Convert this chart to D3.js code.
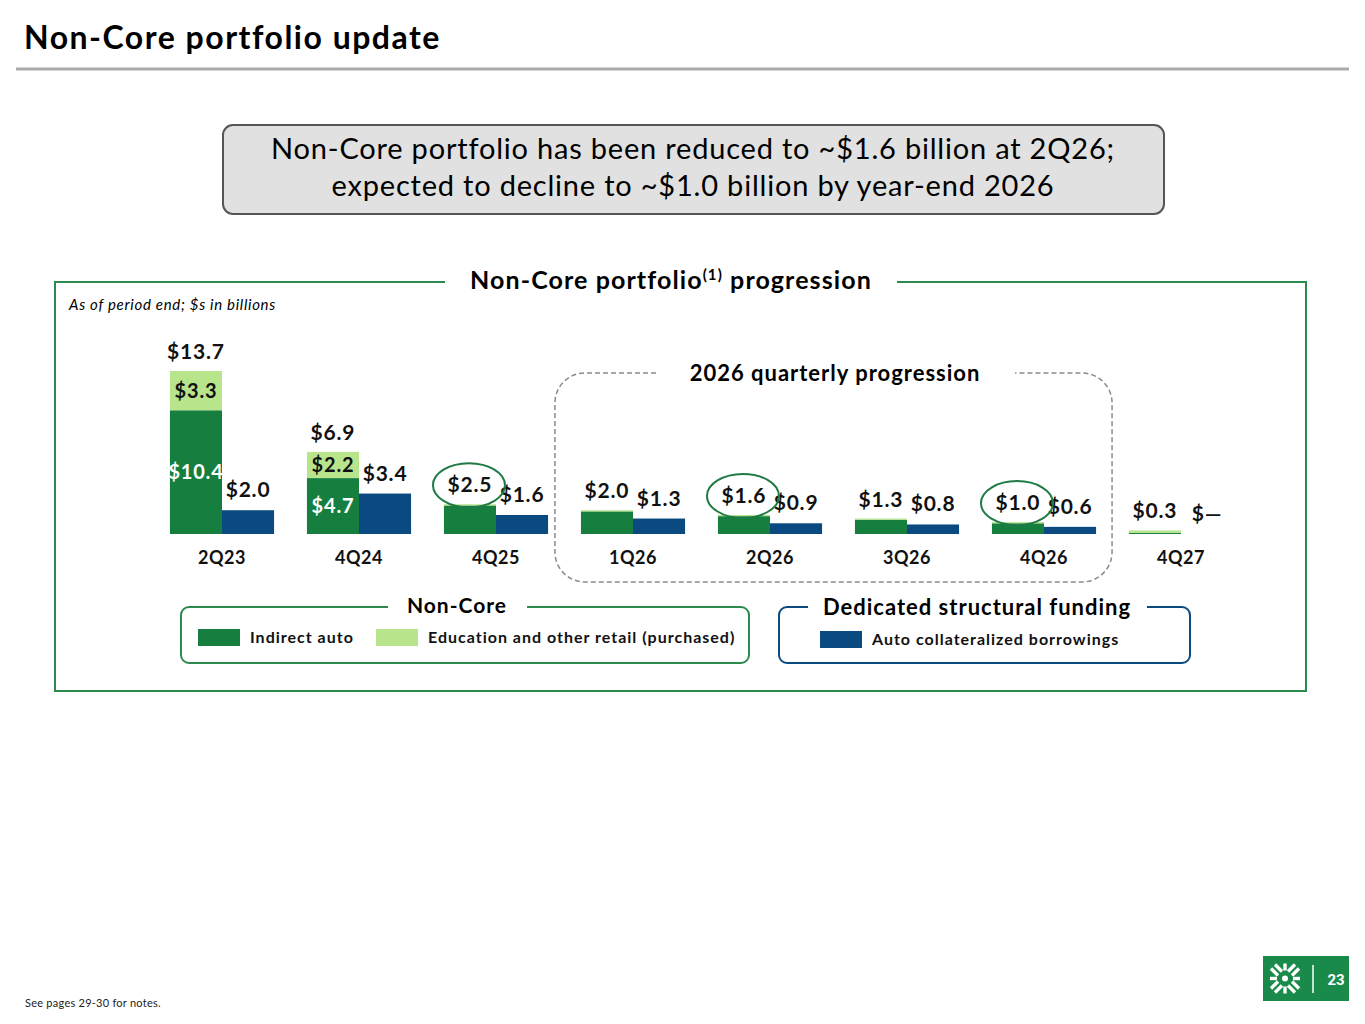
<!DOCTYPE html>
<html>
<head>
<meta charset="utf-8">
<script src="https://cdn.jsdelivr.net/npm/d3@7"></script>
<style>
  body { margin: 0; background: #fff; }
  svg { display: block; font-family: Lato, "Open Sans", sans-serif; }
</style>
</head>
<body>
<div id="chartDiv"></div>
<script>
// chart values
var categories = ["2Q23", "4Q24", "4Q25", "1Q26", "2Q26", "3Q26", "4Q26", "4Q27"];
var indirectAuto = [10.4, 4.7, 2.4, 1.9, 1.5, 1.2, 0.9, 0.1];
var educationRetail = [3.3, 2.2, 0.1, 0.1, 0.1, 0.1, 0.1, 0.2];
var nonCoreTotal = [13.7, 6.9, 2.5, 2.0, 1.6, 1.3, 1.0, 0.3];
var autoBorrowings = [2.0, 3.4, 1.6, 1.3, 0.9, 0.8, 0.6, 0];
var borrowingLabels = ["$2.0", "$3.4", "$1.6", "$1.3", "$0.9", "$0.8", "$0.6", "$\u2014"];
var highlighted = ["4Q25", "2Q26", "4Q26"];
var quarterly2026 = ["1Q26", "2Q26", "3Q26", "4Q26"];

;(function() {

	var width = 1365;
	var height = 1024;

	var darkGreen = "#167f40";
	var lightGreen = "#b8e58c";
	var navy = "#0a4a80";
	var frameGreen = "#2c8a4f";

	var svg = d3.select("#chartDiv").append("svg")
		.attr("width", width)
		.attr("height", height);

	// page title + rule
	svg.append("text")
		.attr("x", 24).attr("y", 49)
		.style("font-size", "32px").style("font-weight", 700)
		.style("letter-spacing", "1.5px")
		.text("Non-Core portfolio update");

	svg.append("line")
		.attr("x1", 16).attr("x2", 1349)
		.attr("y1", 69).attr("y2", 69)
		.attr("stroke", "#ababab").attr("stroke-width", 3);

	// callout
	svg.append("rect")
		.attr("x", 223).attr("y", 125)
		.attr("width", 941).attr("height", 89)
		.attr("rx", 10)
		.attr("fill", "#e1e1e1").attr("stroke", "#555").attr("stroke-width", 2);

	svg.selectAll(".callout")
		.data(["Non-Core portfolio has been reduced to ~$1.6 billion at 2Q26;",
			"expected to decline to ~$1.0 billion by year-end 2026"])
		.enter().append("text")
			.attr("class", "callout")
			.attr("x", 693)
			.attr("y", function(d, i) { return 159 + i * 37; })
			.attr("text-anchor", "middle")
			.style("font-size", "29px")
			.style("letter-spacing", "0.8px")
			.text(function(d) { return d; });

	// chart frame with gap for the header
	svg.append("path")
		.attr("d", "M445,282 H55 V691 H1306 V282 H897")
		.attr("fill", "none").attr("stroke", frameGreen).attr("stroke-width", 2);

	var header = svg.append("text")
		.attr("x", 671).attr("y", 289)
		.attr("text-anchor", "middle")
		.style("font-size", "25px").style("font-weight", 700)
		.style("letter-spacing", "1.1px");
	header.append("tspan").text("Non-Core portfolio");
	header.append("tspan").attr("dy", -9).style("font-size", "15px").text("(1)");
	header.append("tspan").attr("dy", 9).text(" progression");

	svg.append("text")
		.attr("x", 69).attr("y", 310)
		.style("font-size", "15px").style("font-style", "italic")
		.style("letter-spacing", "0.7px")
		.text("As of period end; $s in billions");

	// scales
	var x0 = d3.scaleBand()
		.domain(categories)
		.range([153.5, 1249.5])
		.paddingInner(0.24)
		.paddingOuter(0.12);

	var x1 = d3.scaleBand()
		.domain(["nonCore", "funding"])
		.range([0, x0.bandwidth()]);

	var y = d3.scaleLinear()
		.domain([0, 13.7])
		.range([534, 371]);

	// dashed 2026 group box
	var gx0 = x0(quarterly2026[0]) - 26;
	var gx1 = x0(quarterly2026[3]) + x0.bandwidth() + 16;
	var gy0 = 373, gy1 = 582, r = 30;
	svg.append("path")
		.attr("d", "M656," + gy0 + " H" + (gx0 + r) +
			" A" + r + "," + r + " 0 0 0 " + gx0 + "," + (gy0 + r) +
			" V" + (gy1 - r) +
			" A" + r + "," + r + " 0 0 0 " + (gx0 + r) + "," + gy1 +
			" H" + (gx1 - r) +
			" A" + r + "," + r + " 0 0 0 " + gx1 + "," + (gy1 - r) +
			" V" + (gy0 + r) +
			" A" + r + "," + r + " 0 0 0 " + (gx1 - r) + "," + gy0 +
			" H1015")
		.attr("fill", "none").attr("stroke", "#8a8a8a")
		.attr("stroke-width", 1.5).attr("stroke-dasharray", "5,3");

	svg.append("text")
		.attr("x", 835).attr("y", 381)
		.attr("text-anchor", "middle")
		.style("font-size", "22px").style("font-weight", 700)
		.style("letter-spacing", "1px")
		.text("2026 quarterly progression");

	var rows = categories.map(function(c, i) {
		return {
			cat: c,
			auto: indirectAuto[i],
			edu: educationRetail[i],
			total: nonCoreTotal[i],
			borrow: autoBorrowings[i],
			borrowLabel: borrowingLabels[i]
		};
	});

	var groups = svg.append("g").selectAll(".group")
		.data(rows)
		.enter().append("g")
			.attr("class", "group")
			.attr("transform", function(d) { return "translate(" + x0(d.cat) + ",0)"; });

	var bw = x1.bandwidth();
	var xa = x1("nonCore");
	var xb = x1("funding");

	// indirect auto
	groups.append("rect")
		.attr("x", xa).attr("width", bw)
		.attr("y", function(d) { return y(d.auto); })
		.attr("height", function(d) { return y(0) - y(d.auto); })
		.attr("fill", darkGreen);

	// education and other retail
	groups.append("rect")
		.attr("x", xa).attr("width", bw)
		.attr("y", function(d) { return y(d.auto + d.edu); })
		.attr("height", function(d) { return y(d.auto) - y(d.auto + d.edu); })
		.attr("fill", lightGreen);

	// auto collateralized borrowings
	groups.append("rect")
		.attr("x", xb).attr("width", bw)
		.attr("y", function(d) { return y(d.borrow); })
		.attr("height", function(d) { return y(0) - y(d.borrow); })
		.attr("fill", navy);

	// segment labels when there is room
	groups.filter(function(d) { return y(0) - y(d.auto) > 30; })
		.append("text")
		.attr("x", xa + bw / 2)
		.attr("y", function(d) { return (y(0) + y(d.auto)) / 2 + 7; })
		.attr("text-anchor", "middle")
		.attr("fill", "#fff")
		.style("font-size", "20px").style("font-weight", 700)
		.style("letter-spacing", "0.8px")
		.text(function(d) { return "$" + d.auto.toFixed(1); });

	groups.filter(function(d) { return y(d.auto) - y(d.auto + d.edu) > 20; })
		.append("text")
		.attr("x", xa + bw / 2)
		.attr("y", function(d) { return (y(d.auto) + y(d.auto + d.edu)) / 2 + 7; })
		.attr("text-anchor", "middle")
		.attr("fill", "#111")
		.style("font-size", "20px").style("font-weight", 700)
		.style("letter-spacing", "0.8px")
		.text(function(d) { return "$" + d.edu.toFixed(1); });

	// totals above the non-core bar
	groups.append("text")
		.attr("x", xa + bw / 2)
		.attr("y", function(d) { return y(d.total) - 12; })
		.attr("text-anchor", "middle")
		.attr("fill", "#111")
		.style("font-size", "21px").style("font-weight", 700)
		.style("letter-spacing", "0.8px")
		.text(function(d) { return "$" + d.total.toFixed(1); });

	// borrowing labels
	groups.append("text")
		.attr("x", xb + bw / 2)
		.attr("y", function(d) { return y(d.borrow) - 13; })
		.attr("text-anchor", "middle")
		.attr("fill", "#111")
		.style("font-size", "21px").style("font-weight", 700)
		.style("letter-spacing", "0.8px")
		.text(function(d) { return d.borrowLabel; });

	// highlight ellipses
	groups.filter(function(d) { return highlighted.indexOf(d.cat) >= 0; })
		.append("ellipse")
		.attr("cx", xa + bw / 2 - 1)
		.attr("cy", function(d) { return y(d.total) - 19; })
		.attr("rx", 36).attr("ry", 22)
		.attr("fill", "none").attr("stroke", "#1f7a45").attr("stroke-width", 2);

	// category axis
	var xAxis = d3.axisBottom(x0).tickSize(0).tickPadding(0);
	var axisG = svg.append("g")
		.attr("transform", "translate(0,555)")
		.call(xAxis);
	axisG.select(".domain").remove();
	axisG.selectAll("text")
		.attr("dy", "0.5em")
		.attr("fill", "#111")
		.style("font-family", "Lato, 'Open Sans', sans-serif")
		.style("font-size", "18px").style("font-weight", 700)
		.style("letter-spacing", "0.6px");

	// legends
	function legendBox(x0b, x1b, gapA, gapB, stroke) {
		var yt = 607, yb = 663, rr = 8;
		svg.append("path")
			.attr("d", "M" + gapA + "," + yt + " H" + (x0b + rr) +
				" A" + rr + "," + rr + " 0 0 0 " + x0b + "," + (yt + rr) +
				" V" + (yb - rr) +
				" A" + rr + "," + rr + " 0 0 0 " + (x0b + rr) + "," + yb +
				" H" + (x1b - rr) +
				" A" + rr + "," + rr + " 0 0 0 " + x1b + "," + (yb - rr) +
				" V" + (yt + rr) +
				" A" + rr + "," + rr + " 0 0 0 " + (x1b - rr) + "," + yt +
				" H" + gapB)
			.attr("fill", "none").attr("stroke", stroke).attr("stroke-width", 2);
	}

	legendBox(181, 749, 388, 527, frameGreen);
	legendBox(779, 1190, 808, 1147, navy);

	svg.append("text")
		.attr("x", 457).attr("y", 613)
		.attr("text-anchor", "middle")
		.style("font-size", "21px").style("font-weight", 700)
		.style("letter-spacing", "1px")
		.text("Non-Core");

	svg.append("text")
		.attr("x", 977).attr("y", 615)
		.attr("text-anchor", "middle")
		.style("font-size", "22px").style("font-weight", 700)
		.style("letter-spacing", "1px")
		.text("Dedicated structural funding");

	var legendItems = [
		{ color: darkGreen, label: "Indirect auto", x: 198, y: 629 },
		{ color: lightGreen, label: "Education and other retail (purchased)", x: 376, y: 629 },
		{ color: navy, label: "Auto collateralized borrowings", x: 820, y: 631 }
	];

	var li = svg.selectAll(".legendItem")
		.data(legendItems)
		.enter().append("g")
			.attr("class", "legendItem")
			.attr("transform", function(d) { return "translate(" + d.x + "," + d.y + ")"; });

	li.append("rect")
		.attr("width", 42).attr("height", 17)
		.attr("fill", function(d) { return d.color; });

	li.append("text")
		.attr("x", 52).attr("y", 14)
		.style("font-size", "16px").style("font-weight", 700)
		.style("letter-spacing", "1px")
		.attr("fill", "#111")
		.text(function(d) { return d.label; });

	// footer
	svg.append("text")
		.attr("x", 25).attr("y", 1007)
		.style("font-size", "11px")
		.style("letter-spacing", "0.25px")
		.attr("fill", "#222")
		.text("See pages 29-30 for notes.");

	var logo = svg.append("g").attr("transform", "translate(1263,956)");
	logo.append("rect").attr("width", 86).attr("height", 45).attr("fill", "#1a8a4a");
	var mark = logo.append("g").attr("transform", "translate(22,22.5)");
	// chevrons pointing in to the centre, with short stems
	[0, 90, 180, 270].forEach(function(a) {
		var g = mark.append("g").attr("transform", "rotate(" + a + ")");
		g.append("path")
			.attr("d", "M-10,-14 L-3,-7 M10,-14 L3,-7")
			.attr("fill", "none").attr("stroke", "#fff").attr("stroke-width", 3.4);
		g.append("line")
			.attr("x1", 0).attr("x2", 0).attr("y1", -15).attr("y2", -8)
			.attr("stroke", "#fff").attr("stroke-width", 3.4);
	});
	mark.append("circle").attr("r", 3).attr("fill", "#fff");
	logo.append("line")
		.attr("x1", 50).attr("x2", 50).attr("y1", 9).attr("y2", 37)
		.attr("stroke", "#fff").attr("stroke-width", 1.5);
	logo.append("text")
		.attr("x", 73).attr("y", 29)
		.attr("text-anchor", "middle")
		.attr("fill", "#fff")
		.style("font-family", "Roboto, sans-serif")
		.style("font-size", "15px").style("font-weight", 700)
		.text("23");

})();
</script>
</body>
</html>
